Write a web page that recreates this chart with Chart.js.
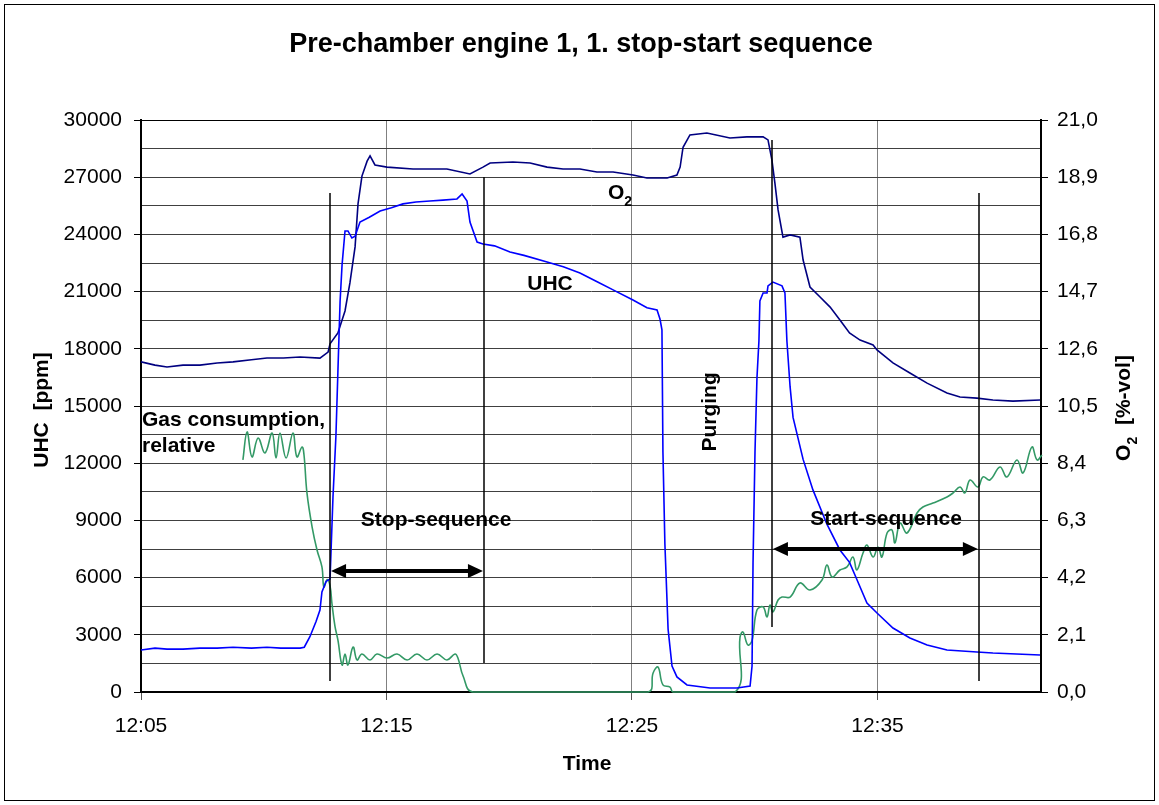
<!DOCTYPE html>
<html>
<head>
<meta charset="utf-8">
<script src="https://cdn.jsdelivr.net/npm/chart.js@4.4.1/dist/chart.umd.min.js"></script>
<style>
  html, body { margin: 0; background: #fff; }
  #wrap { width: 1159px; height: 805px; }
</style>
</head>
<body>
<div id="wrap"><canvas id="c" width="1159" height="805"></canvas></div>
<script>
// time axis: minutes after 12:05
const xTickValues = [0, 10, 20, 30];
const xTickLabels = ['12:05', '12:15', '12:25', '12:35'];
const uhcTicks = [0, 1500, 3000, 4500, 6000, 7500, 9000, 10500, 12000, 13500, 15000,
  16500, 18000, 19500, 21000, 22500, 24000, 25500, 27000, 28500, 30000];
const o2Ticks = [0, 2.1, 4.2, 6.3, 8.4, 10.5, 12.6, 14.7, 16.8, 18.9, 21];
const o2TickLabels = ['0,0', '2,1', '4,2', '6,3', '8,4', '10,5', '12,6', '14,7', '16,8', '18,9', '21,0'];

// UHC [ppm]
const uhcTime = [0, 0.57, 1.06, 1.71, 2.40, 3.10, 3.75, 4.5, 5.13, 5.7, 6.48, 6.65, 6.88, 7.13, 7.29,
  7.37, 7.54, 7.70, 7.82, 7.94, 8.02, 8.11, 8.19, 8.31, 8.43, 8.59, 8.72, 8.92, 9.3, 9.74, 10.2,
  10.67, 11.2, 11.77, 12.3, 12.87, 13.08, 13.28, 13.40, 13.69, 13.93, 14.4, 15.03, 15.6, 16.54,
  17.2, 17.88, 18.6, 19.23, 20.04, 20.61, 21.02, 21.14, 21.22, 21.26, 21.34, 21.47, 21.63, 21.83,
  22.24, 23.18, 24.28, 24.81, 24.89, 24.93, 25.01, 25.09, 25.17, 25.21, 25.34, 25.50, 25.54,
  25.74, 26.11, 26.23, 26.31, 26.44, 26.56, 26.97, 27.37, 27.94, 28.47, 28.86, 29.16, 29.57,
  29.98, 30.63, 31.32, 32.02, 32.83, 34.05, 34.70, 36.62];
const uhcPpm = [2200, 2300, 2250, 2250, 2300, 2300, 2350, 2300, 2350, 2300, 2300, 2350, 2900, 3700, 4300,
  5250, 5800, 5930, 10230, 13430, 16780, 20510, 22400, 24180, 24180, 23810, 23900, 24650, 24900, 25230, 25400,
  25600, 25700, 25750, 25800, 25860, 26120, 25750, 24650, 23600, 23500, 23400, 23080, 22900, 22550,
  22300, 21980, 21500, 21090, 20560, 20150, 20040, 19560, 18990, 12590, 7760, 3300, 1360, 790,
  370, 210, 210, 315, 1360, 6770, 12590, 16470, 18410, 20510, 20930, 20930, 21300,
  21500, 21300, 20930, 18410, 16000, 14400, 12200, 10600, 8800, 7450, 6800, 5900, 4670,
  4145, 3355, 2830, 2465, 2200, 2100, 2045, 1940];

// O2 [%-vol]
const o2Time = [0, 0.57, 1.06, 1.71, 2.40, 3.10, 3.75, 4.5, 5.13, 5.8, 6.48, 7.29, 7.62, 7.70, 8.02,
  8.31, 8.51, 8.72, 8.84, 9.00, 9.21, 9.33, 9.53, 10.02, 11.08, 12.46, 13.40, 13.93, 14.22, 15.15,
  15.85, 16.54, 17.19, 17.88, 18.57, 19.23, 20.04, 20.61, 21.43, 21.83, 21.96, 22.08, 22.36, 23.05,
  23.99, 24.68, 25.34, 25.54, 25.70, 25.82, 25.95, 26.15, 26.44, 26.84, 26.97, 27.25, 27.66, 28.07,
  28.47, 28.86, 29.29, 29.82, 29.98, 30.63, 31.32, 32.02, 32.83, 33.36, 34.05, 34.70, 35.52, 36.62];
const o2Vol = [12.12, 12.0, 11.93, 12.0, 12.0, 12.08, 12.12, 12.2, 12.26, 12.26, 12.3, 12.26, 12.48, 12.78, 13.18,
  13.99, 15.02, 16.34, 17.92, 18.94, 19.49, 19.68, 19.35, 19.27, 19.2, 19.2, 19.02, 19.27, 19.42, 19.46,
  19.42, 19.27, 19.2, 19.2, 19.09, 19.09, 18.98, 18.87, 18.87, 18.98, 19.27, 20.0, 20.45, 20.52,
  20.34, 20.38, 20.38, 20.27, 19.53, 18.69, 17.7, 16.7, 16.78, 16.7, 15.86, 14.87, 14.5, 14.13,
  13.66, 13.18, 12.92, 12.74, 12.56, 12.08, 11.71, 11.34, 10.98, 10.83, 10.79, 10.72, 10.68, 10.72];

// gas consumption, relative (plotted on the UHC scale)
const gasTime = [4.15, 4.32, 4.52, 4.77, 5.05, 5.34, 5.50, 5.66, 5.91, 6.19, 6.35, 6.56, 6.64, 6.76,
  6.97, 7.17, 7.37, 7.45, 7.58, 7.70, 7.78, 7.90, 8.02, 8.19, 8.31, 8.43, 8.64, 8.80, 9.00, 9.33,
  9.61, 10.02, 10.43, 10.84, 11.24, 11.65, 12.06, 12.46, 12.79, 12.91, 13.12, 13.52, 20.65, 20.86,
  21.06, 21.26, 21.55, 21.67, 24.20, 24.40, 24.52, 24.72, 24.89, 25.09, 25.34, 25.50, 25.62, 25.74,
  25.95, 26.11, 26.44, 26.84, 27.25, 27.74, 27.94, 28.15, 28.47, 28.76, 29.00, 29.16, 29.41, 29.57,
  29.82, 30.02, 30.18, 30.39, 30.59, 30.71, 30.92, 31.20, 31.61, 31.85, 32.26, 32.83, 33.08, 33.36,
  33.56, 33.77, 34.09, 34.30, 34.58, 34.99, 35.27, 35.68, 35.93, 36.29, 36.50, 36.70];
const gasRel = [12170, 13640, 12330, 13320, 12540, 13580, 12270, 13580, 12270, 13580, 12330, 12850, 12430, 10440,
  8650, 7450, 6560, 5500, 5900, 5560, 4615, 3460, 2730, 1416, 1990, 1416, 2360, 1680, 1990, 1680,
  1990, 1780, 1990, 1680, 1990, 1680, 1990, 1680, 1990, 1780, 840, 0, 0, 1000,
  1310, 370, 260, 0, 0, 2880, 3150, 2465, 2700, 4300, 4460, 3935, 4560, 4200,
  4825, 4980, 4980, 5720, 5350, 5875, 6660, 6030, 6400, 6560, 7080, 6400, 7290, 7710,
  7080, 7600, 7080, 8340, 8500, 7815, 8860, 8340, 9390, 9700, 9910, 10230, 10440, 10750,
  10440, 11120, 10750, 11280, 11120, 11800, 11280, 12170, 11490, 12850, 12170, 12430];

// sequence markers (time, UHC range) and arrows
const seqLines = [
  { t: 7.70, from: 577, to: 26170 },
  { t: 13.97, from: 1520, to: 27010 },
  { t: 25.70, from: 3410, to: 28950 },
  { t: 34.13, from: 577, to: 26170 }
];
const seqArrows = [
  { t0: 7.70, t1: 13.97, v: 6350 },
  { t0: 25.70, t1: 34.13, v: 7500 }
];
const notes = [
  { text: 'UHC', t: 16.66, v: 21400, align: 'center' },
  { text: 'Gas consumption,', t: 0.04, v: 14266, align: 'left' },
  { text: 'relative', t: 0.04, v: 12900, align: 'left' },
  { text: 'Stop-sequence', t: 12.02, v: 9020, align: 'center' },
  { text: 'Start-sequence', t: 30.35, v: 9075, align: 'center' }
];

const FONT = '"Liberation Sans", Arial, sans-serif';
const pts = (ts, vs) => ts.map((t, i) => ({ x: t, y: vs[i] }));

function drawO2(ctx, text, size, cx, cy) {
  // "O" + subscript "2" + rest, centred at cx
  ctx.font = 'bold ' + size + 'px ' + FONT;
  const wO = ctx.measureText('O').width;
  const wRest = ctx.measureText(text).width;
  ctx.font = 'bold ' + Math.round(size * 0.65) + 'px ' + FONT;
  const w2 = ctx.measureText('2').width;
  let x0 = cx - (wO + w2 + wRest) / 2;
  ctx.textAlign = 'left';
  ctx.textBaseline = 'alphabetic';
  ctx.font = 'bold ' + size + 'px ' + FONT;
  ctx.fillText('O', x0, cy + size * 0.35);
  ctx.font = 'bold ' + Math.round(size * 0.65) + 'px ' + FONT;
  ctx.fillText('2', x0 + wO, cy + size * 0.35 + size * 0.3);
  ctx.font = 'bold ' + size + 'px ' + FONT;
  ctx.fillText(text, x0 + wO + w2, cy + size * 0.35);
}

const annotate = {
  id: 'annotate',
  beforeDraw(chart) {
    const ctx = chart.ctx;
    ctx.save();
    ctx.fillStyle = '#fff';
    ctx.fillRect(0, 0, chart.width, chart.height);
    ctx.restore();
  },
  afterDraw(chart) {
    const { ctx, scales: { x, y } } = chart;
    ctx.save();
    ctx.strokeStyle = '#000';
    ctx.fillStyle = '#000';

    ctx.lineWidth = 1.5;
    seqLines.forEach(m => {
      const px = Math.round(x.getPixelForValue(m.t));
      ctx.beginPath();
      ctx.moveTo(px, y.getPixelForValue(m.from));
      ctx.lineTo(px, y.getPixelForValue(m.to));
      ctx.stroke();
    });

    seqArrows.forEach(a => {
      const x0 = x.getPixelForValue(a.t0) + 1, x1 = x.getPixelForValue(a.t1) - 1;
      const py = Math.round(y.getPixelForValue(a.v));
      ctx.lineWidth = 4;
      ctx.beginPath();
      ctx.moveTo(x0 + 10, py);
      ctx.lineTo(x1 - 10, py);
      ctx.stroke();
      ctx.beginPath();
      ctx.moveTo(x0, py); ctx.lineTo(x0 + 15, py - 7); ctx.lineTo(x0 + 15, py + 7); ctx.closePath();
      ctx.fill();
      ctx.beginPath();
      ctx.moveTo(x1, py); ctx.lineTo(x1 - 15, py - 7); ctx.lineTo(x1 - 15, py + 7); ctx.closePath();
      ctx.fill();
    });

    ctx.font = 'bold 21px ' + FONT;
    ctx.textBaseline = 'middle';
    notes.forEach(n => {
      ctx.textAlign = n.align;
      ctx.fillText(n.text, x.getPixelForValue(n.t), y.getPixelForValue(n.v));
    });
    drawO2(ctx, '', 21, x.getPixelForValue(19.51), y.getPixelForValue(26225));

    // Purging (vertical)
    ctx.save();
    ctx.translate(x.getPixelForValue(23.18), y.getPixelForValue(14690));
    ctx.rotate(-Math.PI / 2);
    ctx.font = 'bold 21px ' + FONT;
    ctx.textAlign = 'center';
    ctx.textBaseline = 'middle';
    ctx.fillText('Purging', 0, 0);
    ctx.restore();

    // titles
    const area = chart.chartArea;
    ctx.textAlign = 'center';
    ctx.textBaseline = 'middle';
    ctx.font = 'bold 27px ' + FONT;
    ctx.fillText('Pre-chamber engine 1, 1. stop-start sequence', 581, 45);
    ctx.font = 'bold 21px ' + FONT;
    ctx.fillText('Time', (area.left + area.right) / 2 - 4, 764);

    ctx.save();
    ctx.translate(42, (area.top + area.bottom) / 2 + 4);
    ctx.rotate(-Math.PI / 2);
    ctx.fillText('UHC  [ppm]', 0, 0);
    ctx.restore();

    ctx.save();
    ctx.translate(1123, (area.top + area.bottom) / 2 + 2);
    ctx.rotate(-Math.PI / 2);
    drawO2(ctx, '  [%-vol]', 21, 0, 0);
    ctx.restore();

    // outer frame
    ctx.lineWidth = 1;
    ctx.strokeRect(4.5, 4.5, 1150, 796);
    ctx.restore();
  }
};

new Chart(document.getElementById('c'), {
  type: 'line',
  data: {
    datasets: [
      { label: 'UHC', data: pts(uhcTime, uhcPpm), yAxisID: 'y', borderColor: '#0000ff', borderWidth: 1.6, pointRadius: 0, tension: 0 },
      { label: 'O2', data: pts(o2Time, o2Vol), yAxisID: 'y1', borderColor: '#000080', borderWidth: 1.6, pointRadius: 0, tension: 0 },
      { label: 'Gas consumption, relative', data: pts(gasTime, gasRel), yAxisID: 'y', borderColor: '#339966', borderWidth: 1.6, pointRadius: 0, tension: 0.4, clip: false }
    ]
  },
  options: {
    responsive: false,
    animation: false,
    layout: { padding: { top: 120, left: 0, right: 0, bottom: 0 } },
    plugins: { legend: { display: false }, title: { display: false }, tooltip: { enabled: false } },
    scales: {
      x: {
        type: 'linear', min: 0, max: 36.66,
        afterFit: s => { s.height = 113; },
        afterBuildTicks: s => { s.ticks = xTickValues.map(v => ({ value: v })); },
        ticks: {
          color: '#000', font: { family: FONT, size: 21 }, padding: 14, maxRotation: 0,
          callback: v => xTickLabels[xTickValues.indexOf(v)]
        },
        grid: {
          color: c => (c.tick && c.tick.value === 0) ? 'rgba(0,0,0,0)' : '#808080',
          tickColor: '#555', tickLength: 8, lineWidth: 1
        },
        border: { color: '#000', width: 2 }
      },
      y: {
        position: 'left', min: 0, max: 30000,
        afterFit: s => { s.width = 141; },
        afterBuildTicks: s => { s.ticks = uhcTicks.map(v => ({ value: v })); },
        ticks: {
          color: '#000', font: { family: FONT, size: 21 }, padding: 12,
          callback: v => (v % 3000 === 0 ? String(v) : '')
        },
        grid: {
          color: c => (c.tick && c.tick.value === 30000) ? '#000' : '#404040',
          tickColor: c => (c.tick && c.tick.value % 3000 === 0) ? '#000' : 'rgba(0,0,0,0)',
          tickLength: 7, lineWidth: 1
        },
        border: { color: '#000', width: 2 }
      },
      y1: {
        position: 'right', min: 0, max: 21,
        afterFit: s => { s.width = 118; },
        afterBuildTicks: s => { s.ticks = o2Ticks.map(v => ({ value: v })); },
        ticks: {
          color: '#000', font: { family: FONT, size: 21 }, padding: 9,
          callback: v => o2TickLabels[o2Ticks.indexOf(v)]
        },
        grid: { drawOnChartArea: false, tickColor: '#000', tickLength: 7 },
        border: { color: '#000', width: 2 }
      }
    }
  },
  plugins: [annotate]
});
</script>
</body>
</html>
